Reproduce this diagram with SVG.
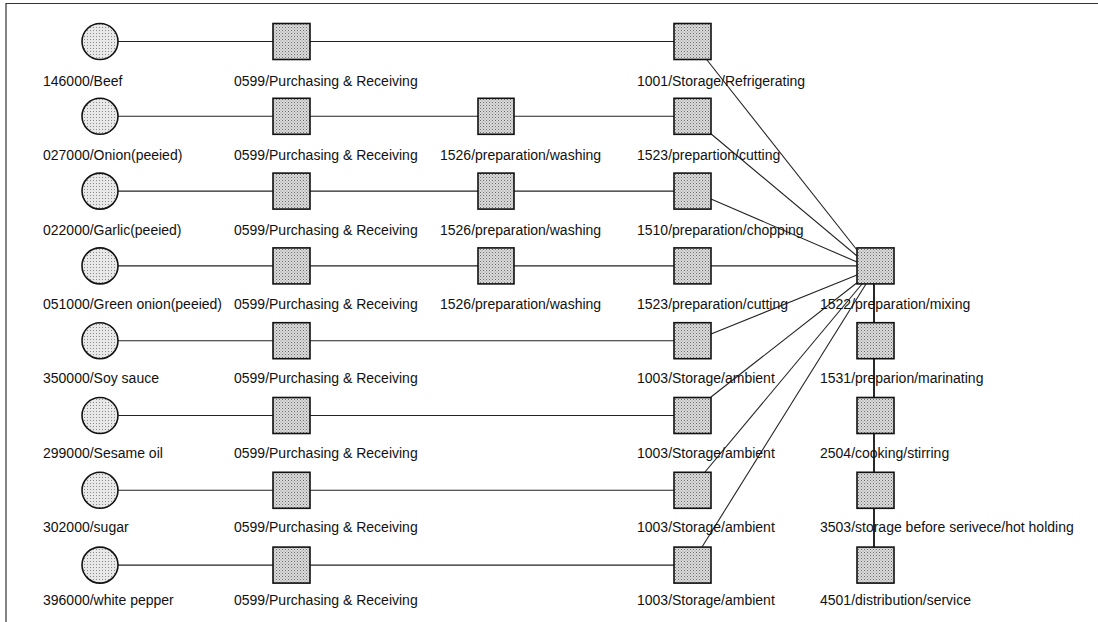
<svg xmlns="http://www.w3.org/2000/svg" width="1098" height="622" viewBox="0 0 1098 622">
<defs>
<pattern id="dotsSq" width="3" height="3" patternUnits="userSpaceOnUse">
<rect width="3" height="3" fill="#dcdcdc"/>
<rect x="0" y="0" width="1" height="1" fill="#6a6a6a"/>
<rect x="1.5" y="1.5" width="1" height="1" fill="#8a8a8a"/>
</pattern>
<pattern id="dotsCi" width="3" height="3" patternUnits="userSpaceOnUse">
<rect width="3" height="3" fill="#e8e8e8"/>
<rect x="0" y="0" width="1" height="1" fill="#8a8a8a"/>
</pattern>
</defs>
<style>
.sq{fill:url(#dotsSq);stroke:#111;stroke-width:1.6}
.ci{fill:url(#dotsCi);stroke:#111;stroke-width:1.6}
.ln{stroke:#222;stroke-width:1.1;fill:none}
.vl{stroke:#111;stroke-width:1.8;fill:none}
.fr{stroke:#333;stroke-width:1.2;fill:none}
text{font-family:"Liberation Sans",Arial,sans-serif;font-size:14px;fill:#111}
</style>
<rect width="1098" height="622" fill="#fff"/>
<path class="fr" d="M6,622 V3.5 H1098"/>
<g id="connectors">
<line class="ln" x1="118" y1="41.5" x2="674" y2="41.5"/>
<line class="ln" x1="118" y1="116.3" x2="674" y2="116.3"/>
<line class="ln" x1="118" y1="191.1" x2="674" y2="191.1"/>
<line class="ln" x1="118" y1="265.9" x2="857" y2="265.9"/>
<line class="ln" x1="118" y1="340.7" x2="674" y2="340.7"/>
<line class="ln" x1="118" y1="415.5" x2="674" y2="415.5"/>
<line class="ln" x1="118" y1="490.3" x2="674" y2="490.3"/>
<line class="ln" x1="118" y1="565.1" x2="674" y2="565.1"/>
<line class="ln" x1="707" y1="60" x2="857" y2="250"/>
<line class="ln" x1="710" y1="133" x2="857" y2="256"/>
<line class="ln" x1="711" y1="199" x2="857" y2="262"/>
<line class="ln" x1="711" y1="334" x2="857" y2="275"/>
<line class="ln" x1="711" y1="397" x2="858" y2="282"/>
<line class="ln" x1="705" y1="472" x2="862" y2="284"/>
<line class="ln" x1="702" y1="547" x2="866" y2="284"/>
<line class="vl" x1="874" y1="284" x2="874" y2="548"/>
</g>
<g id="n-beef"><circle class="ci" cx="100" cy="41.5" r="18"/><text x="43" y="86">146000/Beef</text></g>
<g id="n-onion"><circle class="ci" cx="100" cy="116.3" r="18"/><text x="43" y="160">027000/Onion(peeied)</text></g>
<g id="n-garlic"><circle class="ci" cx="100" cy="191.1" r="18"/><text x="43" y="234.5">022000/Garlic(peeied)</text></g>
<g id="n-greenonion"><circle class="ci" cx="100" cy="265.9" r="18"/><text x="43" y="309">051000/Green onion(peeied)</text></g>
<g id="n-soy"><circle class="ci" cx="100" cy="340.7" r="18"/><text x="43" y="383">350000/Soy sauce</text></g>
<g id="n-sesame"><circle class="ci" cx="100" cy="415.5" r="18"/><text x="43" y="457.5">299000/Sesame oil</text></g>
<g id="n-sugar"><circle class="ci" cx="100" cy="490.3" r="18"/><text x="43" y="531.5">302000/sugar</text></g>
<g id="n-pepper"><circle class="ci" cx="100" cy="565.1" r="18"/><text x="43" y="605">396000/white pepper</text></g>

<g id="p1"><rect class="sq" x="273" y="23.5" width="37" height="36"/><text x="234" y="86">0599/Purchasing &amp; Receiving</text></g>
<g id="p2"><rect class="sq" x="273" y="98.3" width="37" height="36"/><text x="234" y="160">0599/Purchasing &amp; Receiving</text></g>
<g id="p3"><rect class="sq" x="273" y="173.1" width="37" height="36"/><text x="234" y="234.5">0599/Purchasing &amp; Receiving</text></g>
<g id="p4"><rect class="sq" x="273" y="247.9" width="37" height="36"/><text x="234" y="309">0599/Purchasing &amp; Receiving</text></g>
<g id="p5"><rect class="sq" x="273" y="322.7" width="37" height="36"/><text x="234" y="383">0599/Purchasing &amp; Receiving</text></g>
<g id="p6"><rect class="sq" x="273" y="397.5" width="37" height="36"/><text x="234" y="457.5">0599/Purchasing &amp; Receiving</text></g>
<g id="p7"><rect class="sq" x="273" y="472.3" width="37" height="36"/><text x="234" y="531.5">0599/Purchasing &amp; Receiving</text></g>
<g id="p8"><rect class="sq" x="273" y="547.1" width="37" height="36"/><text x="234" y="605">0599/Purchasing &amp; Receiving</text></g>

<g id="w2"><rect class="sq" x="478" y="98.3" width="36" height="36"/><text x="440" y="160">1526/preparation/washing</text></g>
<g id="w3"><rect class="sq" x="478" y="173.1" width="36" height="36"/><text x="440" y="234.5">1526/preparation/washing</text></g>
<g id="w4"><rect class="sq" x="478" y="247.9" width="36" height="36"/><text x="440" y="309">1526/preparation/washing</text></g>

<g id="s1"><rect class="sq" x="674" y="23.5" width="37" height="36"/><text x="637" y="86">1001/Storage/Refrigerating</text></g>
<g id="s2"><rect class="sq" x="674" y="98.3" width="37" height="36"/><text x="637" y="160">1523/prepartion/cutting</text></g>
<g id="s3"><rect class="sq" x="674" y="173.1" width="37" height="36"/><text x="637" y="234.5">1510/preparation/chopping</text></g>
<g id="s4"><rect class="sq" x="674" y="247.9" width="37" height="36"/><text x="637" y="309">1523/preparation/cutting</text></g>
<g id="s5"><rect class="sq" x="674" y="322.7" width="37" height="36"/><text x="637" y="383">1003/Storage/ambient</text></g>
<g id="s6"><rect class="sq" x="674" y="397.5" width="37" height="36"/><text x="637" y="457.5">1003/Storage/ambient</text></g>
<g id="s7"><rect class="sq" x="674" y="472.3" width="37" height="36"/><text x="637" y="531.5">1003/Storage/ambient</text></g>
<g id="s8"><rect class="sq" x="674" y="547.1" width="37" height="36"/><text x="637" y="605">1003/Storage/ambient</text></g>

<g id="m1"><rect class="sq" x="857" y="247.9" width="37" height="36"/><text x="820" y="309">1522/preparation/mixing</text></g>
<g id="m2"><rect class="sq" x="857" y="322.7" width="37" height="36"/><text x="820" y="383">1531/preparion/marinating</text></g>
<g id="m3"><rect class="sq" x="857" y="397.5" width="37" height="36"/><text x="820" y="457.5">2504/cooking/stirring</text></g>
<g id="m4"><rect class="sq" x="857" y="472.3" width="37" height="36"/><text x="820" y="531.5">3503/storage before serivece/hot holding</text></g>
<g id="m5"><rect class="sq" x="857" y="547.1" width="37" height="36"/><text x="820" y="605">4501/distribution/service</text></g>
</svg>
